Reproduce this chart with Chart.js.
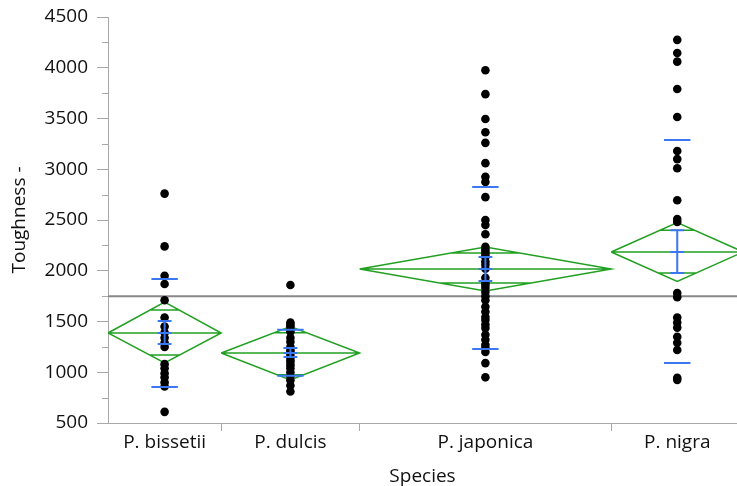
<!DOCTYPE html>
<html>
<head>
<meta charset="utf-8">
<script src="https://cdn.jsdelivr.net/npm/chart.js@4.4.1/dist/chart.umd.min.js"></script>
<style>
  html, body { margin: 0; padding: 0; background: #fff; }
</style>
</head>
<body>
<canvas id="chart" width="737" height="486"></canvas>
<script>
// one column per species, width proportional to the number of samples
const species = ['P. bissetii', 'P. dulcis', 'P. japonica', 'P. nigra'];
const counts = [18, 22, 40, 21];

const bissetii = [2760, 2240, 1950, 1870, 1710, 1540, 1450, 1390, 1340, 1290, 1250, 1080, 1040, 990, 950, 900, 860, 610];
const dulcis = [1860, 1490, 1470, 1450, 1420, 1400, 1340, 1300, 1250, 1220, 1200, 1180, 1150, 1120, 1100, 1070, 1040, 1000, 960, 920, 870, 810];
const japonica = [3975, 3740, 3495, 3365, 3260, 3060, 2925, 2875, 2725, 2500, 2450, 2360, 2235, 2210, 2185, 2160, 2135, 2090, 2060, 2020,
                  1930, 1880, 1860, 1830, 1790, 1750, 1710, 1645, 1595, 1545, 1515, 1470, 1435, 1370, 1320, 1270, 1240, 1200, 1090, 950];
const nigra = [4275, 4145, 4060, 3790, 3515, 3180, 3100, 3010, 2695, 2510, 2480, 1780, 1740, 1540, 1490, 1440, 1350, 1290, 1220, 945, 925];

// means diamonds
const means = [1387, 1190, 2017, 2185];
const ciLow = [1091, 925, 1800, 1895];
const ciHigh = [1692, 1450, 2234, 2475];
const overlapLow = [1170, 975, 1880, 1978];
const overlapHigh = [1613, 1390, 2175, 2400];

// blue std dev lines and mean error bars
const sdLow = [855, 965, 1229, 1091];
const sdHigh = [1919, 1418, 2825, 3288];
const seLow = [1278, 1150, 1900, 1978];
const seHigh = [1505, 1239, 2135, 2400];

const grandMean = 1750;
const yMin = 500, yMax = 4500;

const green = '#22a022';
const blue = '#3a78f2';
const axisGrey = '#a8a8a8';
const font = { family: "'Open Sans', sans-serif", size: 19 };

const groups = [bissetii, dulcis, japonica, nigra];
const starts = [];
let acc = 0;
counts.forEach(n => { starts.push(acc); acc += n; });
const total = acc;
const centers = starts.map((s, i) => s + counts[i] / 2);
const xMax = 100; // the last column runs past the right edge

const gap = { x: null, y: null };

// diamonds, mean lines and overlap marks
const greenPts = [];
species.forEach((s, i) => {
  const x0 = starts[i], x1 = starts[i] + counts[i], c = centers[i], half = counts[i] / 2, m = means[i];
  greenPts.push({ x: x0, y: m }, { x: c, y: ciHigh[i] }, { x: x1, y: m }, { x: c, y: ciLow[i] }, { x: x0, y: m }, gap);
  greenPts.push({ x: x0, y: m }, { x: x1, y: m }, gap);
  const wHi = half * (1 - (overlapHigh[i] - m) / (ciHigh[i] - m));
  const wLo = half * (1 - (m - overlapLow[i]) / (m - ciLow[i]));
  greenPts.push({ x: c - wHi, y: overlapHigh[i] }, { x: c + wHi, y: overlapHigh[i] }, gap);
  greenPts.push({ x: c - wLo, y: overlapLow[i] }, { x: c + wLo, y: overlapLow[i] }, gap);
});

const sdCap = 2.1, seCap = 1.1;
const bluePts = [];
species.forEach((s, i) => {
  const c = centers[i];
  bluePts.push({ x: c - sdCap, y: sdHigh[i] }, { x: c + sdCap, y: sdHigh[i] }, gap);
  bluePts.push({ x: c - sdCap, y: sdLow[i] }, { x: c + sdCap, y: sdLow[i] }, gap);
  bluePts.push({ x: c, y: seLow[i] }, { x: c, y: seHigh[i] }, gap);
  bluePts.push({ x: c - seCap, y: seHigh[i] }, { x: c + seCap, y: seHigh[i] }, gap);
  bluePts.push({ x: c - seCap, y: seLow[i] }, { x: c + seCap, y: seLow[i] }, gap);
  bluePts.push({ x: c - seCap, y: means[i] }, { x: c + seCap, y: means[i] }, gap);
});

const dots = [];
groups.forEach((g, i) => g.forEach(v => dots.push({ x: centers[i], y: v })));

const xTickVals = starts.slice(1).concat(centers).sort((a, b) => a - b);
const yTickVals = [];
for (let v = yMin; v <= yMax; v += 500) yTickVals.push(v);

function noAutoPadding(s) {
  s.paddingLeft = 0; s.paddingRight = 0; s.paddingTop = 0; s.paddingBottom = 0;
}

const minorTicks = {
  id: 'minorTicks',
  afterDraw(chart) {
    const y = chart.scales.y, ctx = chart.ctx, left = chart.chartArea.left;
    ctx.save();
    ctx.strokeStyle = axisGrey;
    ctx.lineWidth = 1;
    for (let v = yMin + 250; v < yMax; v += 500) {
      const py = Math.round(y.getPixelForValue(v)) + 0.5;
      ctx.beginPath();
      ctx.moveTo(left - 6, py);
      ctx.lineTo(left, py);
      ctx.stroke();
    }
    ctx.restore();
  }
};

new Chart(document.getElementById('chart'), {
  type: 'scatter',
  data: {
    datasets: [
      { type: 'line', data: [{ x: 0, y: grandMean }, { x: total, y: grandMean }], borderColor: '#888888', borderWidth: 2, pointRadius: 0, order: 3 },
      { type: 'line', data: greenPts, borderColor: green, borderWidth: 1.5, pointRadius: 0, spanGaps: false, order: 2 },
      { data: dots, backgroundColor: '#000', borderWidth: 0, pointRadius: 4.3, order: 1 },
      { type: 'line', data: bluePts, borderColor: blue, borderWidth: 2, pointRadius: 0, spanGaps: false, order: 0 }
    ]
  },
  options: {
    responsive: false,
    animation: false,
    devicePixelRatio: 1,
    layout: { autoPadding: false, padding: { top: 17, right: 0, left: 0, bottom: 0 } },
    plugins: { legend: { display: false }, tooltip: { enabled: false } },
    scales: {
      x: {
        type: 'linear',
        min: 0,
        max: xMax,
        afterBuildTicks: s => { s.ticks = xTickVals.map(v => ({ value: v })); },
        afterFit: s => { s.height = 63; noAutoPadding(s); },
        ticks: {
          autoSkip: false,
          maxRotation: 0,
          padding: 0,
          color: '#111',
          font: font,
          callback: v => {
            const i = centers.indexOf(v);
            return i >= 0 ? species[i] : '';
          }
        },
        grid: {
          drawOnChartArea: false,
          tickLength: 8,
          tickColor: ctx => (ctx.tick && centers.includes(ctx.tick.value)) ? 'rgba(0,0,0,0)' : axisGrey
        },
        border: { color: axisGrey, width: 1 },
        title: { display: true, text: 'Species', color: '#111', font: font, padding: { top: 0, bottom: -2 } }
      },
      y: {
        min: yMin,
        max: yMax,
        afterBuildTicks: s => { s.ticks = yTickVals.map(v => ({ value: v })); },
        afterFit: s => { s.width = 108; noAutoPadding(s); },
        ticks: { padding: 9, color: '#111', font: font, callback: v => String(v) },
        grid: { drawOnChartArea: false, tickLength: 11, tickColor: axisGrey },
        border: { color: axisGrey, width: 1 },
        title: { display: true, text: 'Toughness -', color: '#111', font: font, padding: { top: 8, bottom: 0 } }
      }
    }
  },
  plugins: [minorTicks]
});
</script>
</body>
</html>
